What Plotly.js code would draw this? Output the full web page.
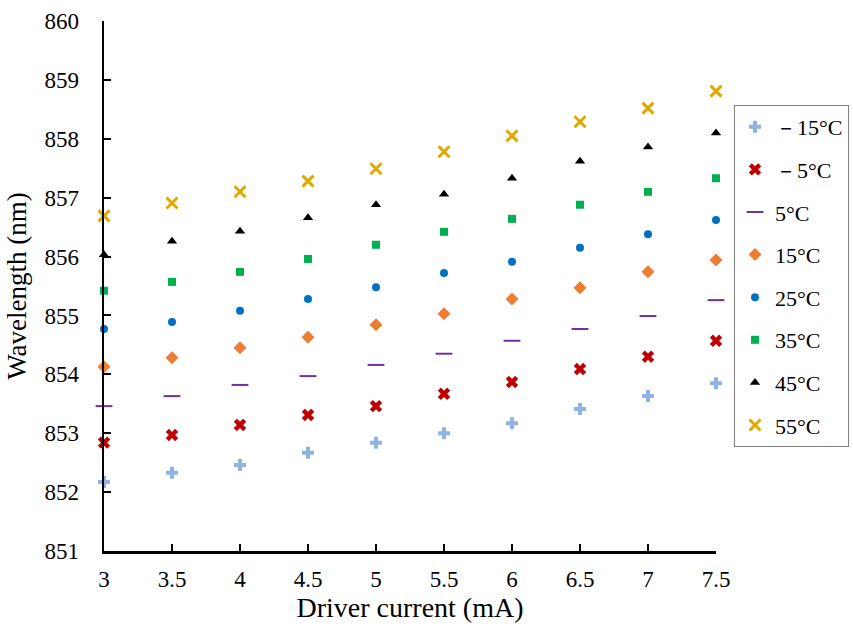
<!DOCTYPE html>
<html>
<head>
<meta charset="utf-8">
<script src="https://cdn.plot.ly/plotly-3.0.1.min.js"></script>
<style>body{margin:0;background:#fff}#chart{width:853px;height:630px}</style>
</head>
<body>
<div id="chart"></div>
<script>
const current = [3, 3.5, 4, 4.5, 5, 5.5, 6, 6.5, 7, 7.5];
const seriesNames = ["－15°C", "－5°C", "5°C", "15°C", "25°C", "35°C", "45°C", "55°C"];
const tM15 = [852.17, 852.33, 852.46, 852.67, 852.84, 853.00, 853.17, 853.41, 853.63, 853.85];
const tM5  = [852.84, 852.97, 853.14, 853.31, 853.46, 853.67, 853.87, 854.09, 854.30, 854.57];
const t5   = [853.46, 853.63, 853.82, 853.97, 854.16, 854.35, 854.57, 854.77, 854.99, 855.26];
const t15  = [854.13, 854.28, 854.45, 854.63, 854.84, 855.03, 855.28, 855.47, 855.74, 855.94];
const t25  = [854.77, 854.89, 855.08, 855.28, 855.48, 855.72, 855.91, 856.15, 856.38, 856.62];
const t35  = [855.42, 855.57, 855.74, 855.96, 856.20, 856.42, 856.64, 856.88, 857.10, 857.33];
const t45  = [856.03, 856.26, 856.43, 856.66, 856.88, 857.06, 857.33, 857.62, 857.86, 858.10];
const t55  = [856.69, 856.91, 857.10, 857.28, 857.49, 857.78, 858.05, 858.29, 858.52, 858.81];
const xTicks = [3, 3.5, 4, 4.5, 5, 5.5, 6, 6.5, 7, 7.5];
const yTicks = [851, 852, 853, 854, 855, 856, 857, 858, 859, 860];

const FONT = "Liberation Serif";
const allY = [tM15, tM5, t5, t15, t25, t35, t45, t55];
const markers = [
  {symbol: "cross", size: 10, color: "#8fb4e3"},
  {symbol: "x", size: 11, color: "#c00000"},
  {symbol: "line-ew-open", size: 12, color: "#7030a0", line: {width: 2, color: "#7030a0"}},
  {symbol: "diamond", size: 10, color: "#ed7d31"},
  {symbol: "circle", size: 8, color: "#0070c0"},
  {symbol: "square", size: 8, color: "#00b050"},
  {symbol: "triangle-up", size: 9, color: "#000000"},
  {symbol: "x-thin-open", size: 11, color: "#e0a800", line: {width: 3, color: "#e0a800"}}
];
const traces = allY.map((ys, i) => ({
  type: "scatter", mode: "markers", x: current, y: ys, name: seriesNames[i],
  legendgroup: "g" + i, marker: markers[i], cliponaxis: false
}));

const layout = {
  width: 853, height: 630,
  margin: {l: 104, r: 137, t: 21, b: 79},
  paper_bgcolor: "#fff", plot_bgcolor: "#fff",
  font: {family: FONT, size: 20, color: "#000"},
  showlegend: true,
  legend: {
    xref: "container", yref: "container",
    x: 734 / 853, y: 1 - 105 / 630, xanchor: "left", yanchor: "top",
    bordercolor: "#7f7f7f", borderwidth: 1, bgcolor: "#fff",
    font: {family: FONT, size: 22, color: "#000"},
    traceorder: "grouped", tracegroupgap: 11, itemwidth: 30,
    maxheight: 500
  },
  xaxis: {
    range: [3, 7.5], tickvals: xTicks, ticktext: xTicks.map(String),
    showgrid: false, zeroline: false, showline: true, linecolor: "#000", linewidth: 2.5,
    ticks: "inside", ticklen: 7, tickwidth: 2, tickcolor: "#000",
    tickfont: {family: FONT, size: 23, color: "#000"}, ticklabelstandoff: 6,
    title: {text: "Driver current (mA)", font: {family: FONT, size: 28, color: "#000"}, standoff: 6}
  },
  yaxis: {
    range: [851, 860], tickvals: yTicks, ticktext: yTicks.map(String),
    showgrid: false, zeroline: false, showline: true, linecolor: "#000", linewidth: 2.5,
    ticks: "inside", ticklen: 7, tickwidth: 2, tickcolor: "#000",
    tickfont: {family: FONT, size: 23, color: "#000"}, ticklabelstandoff: 18,
    title: {text: "Wavelength (nm)", font: {family: FONT, size: 27, color: "#000"}, standoff: 10}
  }
};
Plotly.newPlot("chart", traces, layout, {displayModeBar: false, staticPlot: true});
</script>
</body>
</html>
